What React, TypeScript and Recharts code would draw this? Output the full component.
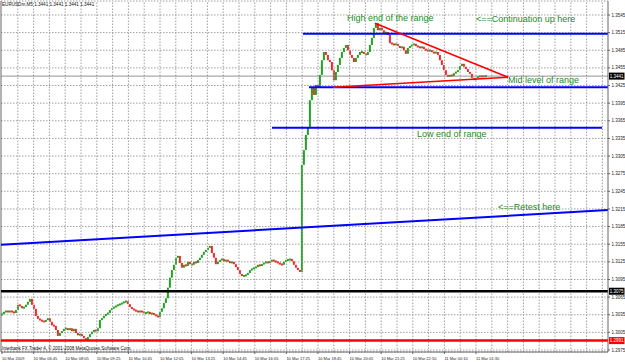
import React from 'react';
import { ComposedChart, Bar, XAxis, YAxis, CartesianGrid, ReferenceLine } from 'recharts';

// EURUSDm M5 closes, one per bar (open = previous close)
const closesEarly = [
  1.3036, 1.3040, 1.3041, 1.3040, 1.3041, 1.3040, 1.3038, 1.3043, 1.3052, 1.3050,
  1.3046, 1.3048, 1.3052, 1.3057, 1.3062, 1.3052, 1.3045, 1.3033, 1.3028, 1.3026,
  1.3024, 1.3023, 1.3026, 1.3029, 1.3023, 1.3017, 1.3016, 1.3009, 1.2999, 1.3004,
  1.3007, 1.3011, 1.3012, 1.3009, 1.3012, 1.3007, 1.3011, 1.3004, 1.3000, 1.3002,
  1.2999, 1.2995, 1.2992, 1.2997, 1.3002, 1.3006, 1.3009, 1.3007, 1.3012, 1.3026,
  1.3029, 1.3033, 1.3036, 1.3038,
];
const closesMidday = [
  1.3043, 1.3046, 1.3048, 1.3050, 1.3052, 1.3053, 1.3055, 1.3057, 1.3058, 1.3053,
  1.3048, 1.3045, 1.3043, 1.3041, 1.3040, 1.3041, 1.3040, 1.3038, 1.3038, 1.3040,
  1.3036, 1.3038, 1.3035, 1.3033, 1.3031, 1.3040, 1.3046, 1.3055, 1.3063, 1.3081,
  1.3098, 1.3111, 1.3120, 1.3132, 1.3135, 1.3123, 1.3115, 1.3120, 1.3118, 1.3125,
  1.3121, 1.3120, 1.3125, 1.3123, 1.3128, 1.3132, 1.3137, 1.3142, 1.3145, 1.3149,
  1.3152, 1.3140, 1.3132, 1.3121, 1.3125, 1.3128, 1.3130, 1.3126, 1.3128, 1.3126,
  1.3123, 1.3125, 1.3121, 1.3116, 1.3111, 1.3104, 1.3101, 1.3101, 1.3103, 1.3106,
  1.3111, 1.3113, 1.3115, 1.3116, 1.3120, 1.3118, 1.3121, 1.3123, 1.3125, 1.3123,
  1.3126, 1.3128, 1.3126, 1.3125, 1.3123, 1.3121, 1.3120, 1.3125, 1.3128, 1.3128,
  1.3130, 1.3126, 1.3120, 1.3115, 1.3111, 1.3108,
];
const closesLate = [
  1.3290, 1.3315, 1.3341, 1.3353, 1.3400, 1.3421, 1.3409, 1.3426, 1.3421, 1.3443,
  1.3468, 1.3482, 1.3477, 1.3468, 1.3465, 1.3451, 1.3434, 1.3448, 1.3460, 1.3472,
  1.3482, 1.3489, 1.3494, 1.3485, 1.3477, 1.3472, 1.3465, 1.3472, 1.3477, 1.3482,
  1.3482, 1.3479, 1.3477, 1.3482, 1.3494, 1.3506, 1.3523, 1.3531, 1.3519, 1.3523,
  1.3519, 1.3514, 1.3516, 1.3511, 1.3497, 1.3496, 1.3494, 1.3496, 1.3492, 1.3489,
  1.3491, 1.3485, 1.3479, 1.3489, 1.3492, 1.3494, 1.3496, 1.3492, 1.3491, 1.3489,
  1.3491, 1.3487, 1.3485, 1.3484, 1.3485, 1.3482, 1.3480, 1.3482, 1.3477, 1.3468,
  1.3460, 1.3451, 1.3443, 1.3440, 1.3443, 1.3441, 1.3446, 1.3448, 1.3451, 1.3458,
  1.3462, 1.3457, 1.3453, 1.3448, 1.3445, 1.3438, 1.3434, 1.3438, 1.3440, 1.3441,
  1.3440, 1.3441, 1.3441,
];
const firstOpen = 1.3035;

const timeTicks = [0, 15.8, 31.6, 47.4, 63.2, 79, 94.8, 110.6, 126.4, 142.2, 158, 173.8, 189.6, 205.4, 221.2, 237];
const timeLabels = [
  '10 Mar 2009', '10 Mar 06:45', '10 Mar 08:05', '10 Mar 09:25', '10 Mar 10:45', '10 Mar 12:05',
  '10 Mar 13:25', '10 Mar 14:45', '10 Mar 16:05', '10 Mar 17:25', '10 Mar 18:45', '10 Mar 20:05',
  '10 Mar 21:25', '10 Mar 22:50', '11 Mar 00:10', '11 Mar 01:30',
];
const gridSlots = [
  7.9, 15.8, 23.7, 31.6, 39.5, 47.4, 55.3, 63.2, 71.1, 79, 86.9, 94.8, 102.7, 110.6, 118.5,
  126.4, 134.3, 142.2, 150.1, 158, 165.9, 173.8, 181.7, 189.6, 197.5, 205.4, 213.3, 221.2,
  229.1, 237, 244.9, 252.8, 260.7, 268.6, 276.5, 284.4, 292.3, 300.2,
];
const priceTicks = [
  1.2975, 1.3005, 1.3035, 1.3065, 1.3095, 1.3125, 1.3155, 1.3185, 1.3215, 1.3245,
  1.3275, 1.3305, 1.3335, 1.3365, 1.3395, 1.3425, 1.3455, 1.3485, 1.3515, 1.3545,
];

// levels drawn on the chart
const rangeHigh = 1.3513;
const rangeMid = 1.3422;
const rangeLow = 1.3353;
const supportBlack = 1.3075;
const supportRed = 1.2991;
const lastPrice = 1.3441;
const retestLine = [{ x: -0.5, y: 1.3154 }, { x: 303, y: 1.3213 }];
const triangleUpper = [{ x: 186.5, y: 1.3531 }, { x: 253, y: 1.3439 }];
const triangleLower = [{ x: 165.5, y: 1.3422 }, { x: 253, y: 1.3439 }];

const closes = [...closesEarly, ...closesMidday, ...closesLate];
const data = closes.map((c, i) => {
  const o = i === 0 ? firstOpen : closes[i - 1];
  return { t: i, range: [Math.min(o, c), Math.max(o, c)], up: c >= o };
});

const FONT = '"Liberation Sans", Arial, sans-serif';
const GREEN_TEXT = '#1e8c1e';

const Candle = (props: any) => {
  const { x, y, width, height, payload } = props;
  const h = Math.max(height, 2);
  return (
    <rect
      x={x + width / 2 - 1}
      y={y - (h - height) / 2}
      width={2}
      height={h}
      fill={payload.up ? '#22a322' : '#f02a2a'}
    />
  );
};

const PriceTick = ({ x, y, payload }: any) => (
  <text x={x - 0.5} y={y + 1.6} fontSize={4.5} fontFamily={FONT} fill="#222">
    {Number(payload.value).toFixed(4)}
  </text>
);

const TimeTick = ({ x, y, payload }: any) => {
  const idx = timeTicks.indexOf(payload.value);
  return (
    <text x={x} y={y + 3.5} fontSize={4} fontFamily={FONT} fill="#222" textAnchor="start">
      {timeLabels[idx]}
    </text>
  );
};

const priceBox = (text: string, fill: string) => (props: any) => {
  const { viewBox } = props;
  const bx = viewBox.x + viewBox.width + 1;
  return (
    <g>
      <rect x={bx} y={viewBox.y - 3.5} width={15.5} height={7} fill={fill} />
      <text x={bx + 0.8} y={viewBox.y + 1.6} fontSize={4.5} fontFamily={FONT} fill="#fff">
        {text}
      </text>
    </g>
  );
};

export default function App() {
  return (
    <div style={{ position: 'fixed', left: 0, top: 0, width: 625, height: 362, background: '#fff' }}>
      <ComposedChart width={625} height={362} data={data} margin={{ top: 1, right: 0, bottom: 0, left: 1 }}>
        <CartesianGrid vertical={false} stroke="#a0a0a0" strokeDasharray="1.5 1.5" />
        {gridSlots.map((s) => (
          <ReferenceLine key={`g${s}`} x={s} stroke="#a0a0a0" strokeDasharray="1.5 1.5" />
        ))}
        <XAxis
          type="number"
          dataKey="t"
          domain={[-0.5, 303]}
          allowDataOverflow
          ticks={timeTicks}
          interval={0}
          height={10}
          tickSize={2}
          stroke="#666"
          tick={<TimeTick />}
        />
        <YAxis
          orientation="right"
          type="number"
          domain={[1.29716, 1.35688]}
          allowDataOverflow
          ticks={priceTicks}
          interval={0}
          width={17}
          tickSize={2}
          stroke="#666"
          tick={<PriceTick />}
        />
        <ReferenceLine x={-0.5} stroke="#666" />
        <ReferenceLine y={lastPrice} stroke="#777" strokeWidth={0.8} label={priceBox('1.3441', '#000')} />
        <ReferenceLine y={supportBlack} stroke="#000" strokeWidth={2.5} label={priceBox('1.3075', '#000')} />
        <ReferenceLine y={supportRed} stroke="#ff0000" strokeWidth={2.5} label={priceBox('1.2991', '#ff0000')} />
        <ReferenceLine segment={[{ x: 150.5, y: rangeHigh }, { x: 303, y: rangeHigh }]} stroke="#0000ff" strokeWidth={2} />
        <ReferenceLine segment={[{ x: 153.5, y: rangeMid }, { x: 303, y: rangeMid }]} stroke="#0000ff" strokeWidth={2} />
        <ReferenceLine segment={[{ x: 135, y: rangeLow }, { x: 300, y: rangeLow }]} stroke="#0000ff" strokeWidth={2} />
        <ReferenceLine segment={retestLine} stroke="#0000ff" strokeWidth={2} />
        <Bar dataKey="range" barSize={2} shape={<Candle />} isAnimationActive={false} />
        <ReferenceLine segment={triangleUpper} stroke="#ff0000" strokeWidth={1.6} />
        <ReferenceLine segment={triangleLower} stroke="#ff0000" strokeWidth={1.6} />
      </ComposedChart>
      <svg width={625} height={362} style={{ position: 'absolute', left: 0, top: 0, pointerEvents: 'none' }}>
        <text x={2} y={6} fontSize={4.6} fontFamily={FONT} fill="#111">
          EURUSDm,M5  1.3441 1.3441 1.3441 1.3441
        </text>
        <text x={2} y={350} fontSize={4.5} fontFamily={FONT} fill="#111">
          Interbank FX Trader 4, © 2001-2008 MetaQuotes Software Corp.
        </text>
        <g fontSize={9} fontFamily={FONT} fill={GREEN_TEXT}>
          <text x={347} y={21}>High end of the range</text>
          <text x={476} y={22}>{'<==Continuation up here'}</text>
          <text x={508} y={83}>Mid level of range</text>
          <text x={417} y={137}>Low end of range</text>
          <text x={498} y={210}>{'<==Retest here'}</text>
        </g>
      </svg>
    </div>
  );
}
